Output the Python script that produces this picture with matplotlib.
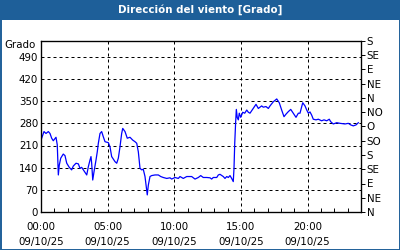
import numpy as np
import matplotlib
matplotlib.use("Agg")
import matplotlib.pyplot as plt
from matplotlib.patches import Rectangle

# wind direction over the day, hours from 00:00 and degrees
hours = [0.05, 0.225, 0.375, 0.55, 0.675, 0.80, 0.92, 1.125, 1.22, 1.30, 1.37, 1.48,
         1.67, 1.80, 1.93, 2.12, 2.30, 2.42, 2.625, 2.80, 2.925, 3.05, 3.225, 3.43,
         3.55, 3.675, 3.75, 3.80, 3.88, 3.975, 4.125, 4.22, 4.30, 4.425, 4.55, 4.67,
         4.80, 5.05, 5.175, 5.30, 5.55, 5.68, 5.80, 5.925, 6.05, 6.13, 6.30, 6.47,
         6.675, 6.88, 7.05, 7.18, 7.30, 7.425, 7.55, 7.67, 7.80, 7.93, 7.97, 8.05,
         8.175, 8.30, 8.55, 8.80, 8.98, 9.17, 9.43, 9.675, 9.80, 10.05, 10.30, 10.425,
         10.67, 10.93, 11.30, 11.55, 11.80, 11.98, 12.17, 12.43, 12.675, 12.80, 12.92,
         13.18, 13.30, 13.425, 13.67, 13.80, 13.93, 14.05, 14.175, 14.30, 14.42, 14.475,
         14.53, 14.60, 14.65, 14.72, 14.80, 14.87, 14.98, 15.13, 15.28, 15.43, 15.55,
         15.675, 15.92, 16.125, 16.30, 16.55, 16.67, 16.875, 17.05, 17.175, 17.42, 17.68,
         17.87, 18.05, 18.225, 18.375, 18.55, 18.73, 18.92, 19.125, 19.30, 19.425, 19.55,
         19.63, 19.80, 19.93, 20.05, 20.175, 20.30, 20.42, 20.625, 20.80, 21.05, 21.225,
         21.43, 21.62, 21.73, 21.92, 22.18, 22.425, 22.80, 23.05, 23.23, 23.42, 23.625,
         23.80]
grados = [233, 254, 248, 254, 248, 233, 225, 236, 212, 117, 148, 170,
          183, 178, 154, 141, 133, 145, 154, 152, 138, 141, 130, 117,
          143, 164, 175, 154, 101, 127, 164, 190, 217, 248, 254, 238,
          222, 219, 206, 175, 159, 154, 170, 206, 248, 264, 254, 233,
          236, 227, 222, 217, 190, 138, 133, 135, 112, 69, 54, 85,
          112, 115, 117, 117, 112, 109, 106, 108, 104, 109, 106, 112,
          106, 112, 112, 104, 109, 115, 109, 109, 108, 104, 109,
          109, 117, 119, 112, 106, 112, 109, 115, 106, 96, 138,
          217, 285, 324, 298, 291, 312, 299, 315, 312, 322, 315,
          312, 327, 340, 327, 335, 331, 333, 327, 335, 348, 357,
          345, 322, 301, 309, 317, 324, 312, 299, 312, 312, 333,
          345, 335, 322, 312, 316, 306, 293, 291, 293, 288, 291,
          288, 293, 285, 278, 282, 280, 278, 280, 275, 272, 275,
          282]

xticks = [0, 5, 10, 15, 20]
xlabels = ["00:00\n09/10/25", "05:00\n09/10/25", "10:00\n09/10/25",
           "15:00\n09/10/25", "20:00\n09/10/25"]
yticks = [0, 70, 140, 210, 280, 350, 420, 490]
rumbos = ["N", "NE", "E", "SE", "S", "SO", "O", "NO", "N", "NE", "E", "SE", "S"]

blue = "#1e5f99"
fs = 7.4

fig = plt.figure(figsize=(4, 2.5), dpi=100)
fig.patch.set_facecolor("white")

# title bar and frame
fig.patches.append(Rectangle((0, 230 / 250), 1, 20 / 250, transform=fig.transFigure,
                             facecolor=blue, edgecolor="none", zorder=0))
fig.patches.append(Rectangle((0.5 / 400, 0.5 / 250), 399 / 400, 249 / 250,
                             transform=fig.transFigure, facecolor="none",
                             edgecolor=blue, linewidth=1.4, zorder=0))
fig.text(0.5, 240 / 250, "Dirección del viento [Grado]", color="white",
         fontsize=fs, fontweight="bold", ha="center", va="center")

ax = fig.add_axes([41 / 400, 1 - 212 / 250, 320 / 400, 171 / 250])
ax.plot(hours, grados, color="#0000ff", linewidth=0.9)
ax.set_xlim(0, 24)
ax.set_ylim(0, 540)

ax.set_xticks(xticks)
ax.set_xticklabels(xlabels, fontsize=fs, linespacing=1.6)
ax.set_xticks(range(25), minor=True)
ax.tick_params(axis="x", which="major", length=0, pad=7)
ax.tick_params(axis="x", which="minor", direction="in", length=3, width=0.7)
ax.set_yticks(yticks)
ax.set_yticklabels([str(v) for v in yticks], fontsize=fs)
ax.tick_params(axis="y", length=0, pad=2)

ax.grid(True, color="black", linestyle=(0, (3, 3)), linewidth=0.72)
for s in ax.spines.values():
    s.set_linewidth(0.9)

ax2 = ax.twinx()
ax2.set_ylim(0, 540)
ax2.set_yticks(np.arange(0, 541, 45))
ax2.set_yticklabels(rumbos, fontsize=fs)
ax2.tick_params(axis="y", direction="out", length=3, width=0.7, pad=1)

fig.text(36 / 400, 1 - 45 / 250, "Grado", fontsize=fs, ha="right", va="center")

fig.savefig("out.png", dpi=100)
